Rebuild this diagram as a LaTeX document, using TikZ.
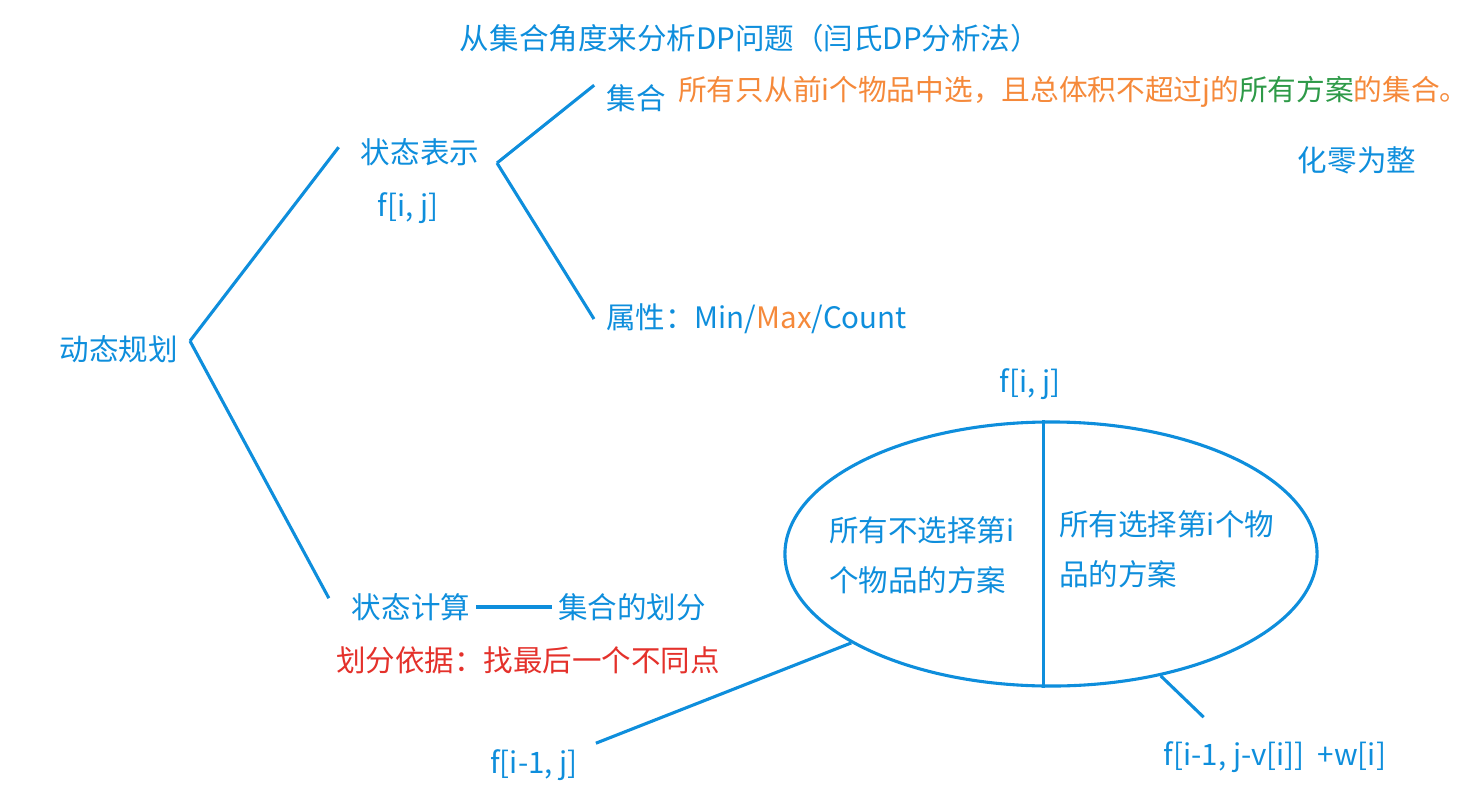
\documentclass[tikz,border=0pt]{standalone}
\usepackage{fontspec}
\setmainfont{Noto Sans CJK SC}
\usetikzlibrary{positioning,shapes.geometric,calc}
\definecolor{dpBlue}{HTML}{0E8EDC}
\definecolor{noteOrange}{HTML}{F5893A}
\definecolor{noteGreen}{HTML}{2E9A48}
\definecolor{noteRed}{HTML}{E4312B}
\tikzset{
    txt/.style={text=dpBlue,font=\fontsize{21}{26}\selectfont,inner sep=0.15cm},
    halftxt/.style={txt,align=left,font=\fontsize{21}{35.5}\selectfont},
    branch/.style={draw=dpBlue,line width=2.2pt},
    setoval/.style={ellipse,draw=dpBlue,line width=2.2pt,
        minimum width=13.3cm,minimum height=6.6cm,inner sep=0pt}
}

\begin{document}
\begin{tikzpicture}[x=0.025cm,y=-0.025cm]
    \useasboundingbox (0,0) rectangle (1476,810);

    \node[txt] (title) at (750,38) {从集合角度来分析DP问题（闫氏DP分析法）};

    \node[txt] (dp) at (119,349) {动态规划};
    \node[txt] (rep) at (420,152) {状态表示};
    \node[txt] (fij) at (408,208) {f[i, j]};
    \node[txt] (calc) at (411,607) {状态计算};
    \node[txt] (part) at (632,607) {集合的划分};
    \node[txt,text=noteRed] (basis) at (528,660) {划分依据：找最后一个不同点};

    \node[txt] (set) at (636,98) {集合};
    \node[txt,anchor=west,text=noteOrange,font=\fontsize{20.4}{26}\selectfont] (setdef) at (672,92)
        {所有只从前i个物品中选，且总体积不超过j的\textcolor{noteGreen}{所有方案}的集合。};
    \node[txt,anchor=west] (attr) at (600,319) {属性：Min/\textcolor{noteOrange}{Max}/Count};
    \node[txt] (whole) at (1357,160) {化零为整};

    \coordinate (dpfork) at (190,341);
    \coordinate (repfork) at (497,163);
    \draw[branch] (dpfork) -- ([xshift=-0.4cm,yshift=0.12cm]rep.west);
    \draw[branch] (dpfork) -- ([xshift=-0.42cm,yshift=0.22cm]calc.west);
    \draw[branch] (repfork) -- ([xshift=-0.15cm,yshift=0.32cm]set.west);
    \draw[branch] (repfork) -- ([xshift=-0.15cm]attr.west);
    \draw[branch] (calc.east) -- (part.west);

    \node[txt] (ftop) at (1030,384) {f[i, j]};
    \node[setoval] (split) at (1051,554) {};
    \draw[branch] ([xshift=-0.18cm]split.north) -- ([xshift=-0.18cm]split.south);
    \node[halftxt,anchor=west] (skip) at (823,555) {所有不选择第i\\个物品的方案};
    \node[halftxt,anchor=west] (take) at (1053,549) {所有选择第i个物\\品的方案};

    \node[txt] (fprev) at (534,765) {f[i-1, j]};
    \node[txt] (fsel) at (1275,757) {f[i-1, j-v[i]]\ \ +w[i]};
    \draw[branch] (split.204) -- ([xshift=0.3cm]fprev.north east);
    \draw[branch] (split.312) -- ([xshift=1.15cm,yshift=0.45cm]fsel.north west);
\end{tikzpicture}
\end{document}
